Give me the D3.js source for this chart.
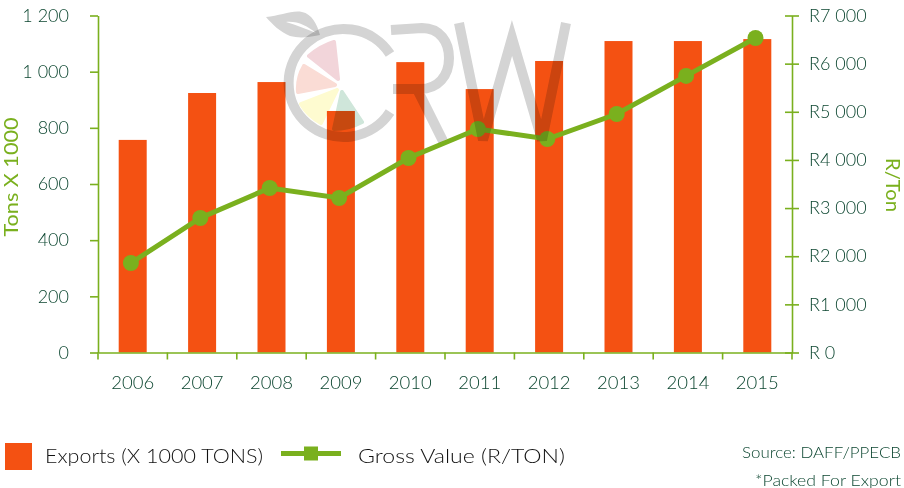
<!DOCTYPE html>
<html><head><meta charset="utf-8">
<script src="https://cdn.jsdelivr.net/npm/d3@7"></script>
<style>html,body{margin:0;padding:0;background:#fff}svg{display:block}text{font-family:"Lato",sans-serif;font-weight:300}</style>
</head><body><div id="chart"></div>
<script>
const years = ["2006","2007","2008","2009","2010","2011","2012","2013","2014","2015"];
const exportsTons = [757,924,963,860,1034,938,1038,1109,1109,1116];
const grossValue = [1859,2794,3417,3209,4040,4642,4435,4954,5745,6533];
const leftTicks = [0,200,400,600,800,1000,1200];
const rightTicks = [0,1000,2000,3000,4000,5000,6000,7000];
const ORANGE="#f45112", GREEN="#7ab01e", TXT="#0c4630";
const W=904,H=488,L=98,R=792,T=15.5,B=352.5;
const svg=d3.select("#chart").append("svg").attr("width",W).attr("height",H);
const xb=d3.scaleBand().domain(years).range([L,R]);
const yL=d3.scaleLinear().domain([0,1200]).range([B,T]);
const yR=d3.scaleLinear().domain([0,7000]).range([B,T]);
const fmt=v=>{const s=String(v);return s.length>3?s.slice(0,-3)+" "+s.slice(-3):s;};

svg.selectAll("rect.bar").data(years).enter().append("rect").attr("class","bar")
  .attr("x",d=>xb(d)+xb.bandwidth()/2-14).attr("width",28)
  .attr("y",(d,i)=>yL(exportsTons[i])).attr("height",(d,i)=>B-yL(exportsTons[i]))
  .attr("fill",ORANGE);

function styleAxis(g,size){g.selectAll("path,line").attr("stroke",GREEN).attr("stroke-width",1.6);
  g.selectAll("text").attr("fill",TXT).attr("font-size",size);}
const gl=svg.append("g").attr("transform",`translate(${L},0)`)
  .call(d3.axisLeft(yL).tickValues(leftTicks).tickFormat(fmt).tickSize(8).tickPadding(21).tickSizeOuter(0));
styleAxis(gl,18);
const gr=svg.append("g").attr("transform",`translate(${R},0)`)
  .call(d3.axisRight(yR).tickValues(rightTicks).tickFormat(v=>v===0?"R 0":"R"+fmt(v)).tickSize(7).tickPadding(10).tickSizeOuter(0));
styleAxis(gr,18);
gr.selectAll(".tick").append("line").attr("x1",-7).attr("x2",0).attr("stroke",GREEN).attr("stroke-width",1.6);
const gx=svg.append("g").attr("transform",`translate(0,${B})`)
  .call(d3.axisBottom(xb).tickSize(0).tickPadding(23));
styleAxis(gx,18.5);
gx.selectAll(".boundary").data(years.concat(["end"])).enter().append("line").attr("class","boundary")
  .attr("x1",d=>d==="end"?R:xb(d)).attr("x2",d=>d==="end"?R:xb(d)).attr("y1",0).attr("y2",7)
  .attr("stroke",GREEN).attr("stroke-width",1.6);

const px=i=>xb(years[i])+xb.bandwidth()/2-1.8;
const line=d3.line().x((d,i)=>px(i)).y(d=>yR(d));
svg.append("path").datum(grossValue).attr("d",line).attr("fill","none").attr("stroke",GREEN).attr("stroke-width",5);
svg.selectAll("circle.pt").data(grossValue).enter().append("circle").attr("class","pt")
  .attr("cx",(d,i)=>px(i)).attr("cy",d=>yR(d)).attr("r",8).attr("fill",GREEN);

// watermark logo
const wm=svg.append("g");
const GREY="#d4d4d4";
const mul=s=>s.style("mix-blend-mode","multiply");
mul(wm.append("path").attr("d","M266,17 C280,16 292,10 302,12 C312,14 317,24 320,35 C306,38 298,38 290,36 C280,32 272,24 266,17Z").attr("fill",GREY));
wm.append("path").attr("d","M286,22 C298,21 307,26 316,33 C306,29 297,25 286,22Z").attr("fill","#fff");
mul(wm.append("path").attr("d","M390,54 A55,54 0 1 0 390,112").attr("fill","none").attr("stroke",GREY).attr("stroke-width",10));
mul(wm.append("path").attr("d","M391,30 L422,28 C440,28 449,42 449,58 C449,76 438,89 420,89 L393,89 M417,89 L443,141").attr("fill","none").attr("stroke",GREY).attr("stroke-width",10));
mul(wm.append("path").attr("d","M459,23 L483,140 L512,38 L542,140 L566,23").attr("fill","none").attr("stroke",GREY).attr("stroke-width",10));
const slice=(d,c)=>mul(wm.append("path").attr("d",d).attr("fill",c).attr("stroke",c).attr("stroke-width",4).attr("stroke-linejoin","round"));
slice("M309,56 Q321,46 334,42 L338,79Z","#f2d5da");
slice("M304,66 L335,85 L298,92 Q297,78 304,66Z","#fadcd5");
slice("M301,104 L337,90 L321,123 Q308,116 301,104Z","#fefbd0");
slice("M342,92 L362,122 Q349,129 334,129Z","#cfe6da");

// axis titles
svg.append("text").attr("transform","translate(18,177) rotate(-90)").attr("text-anchor","middle").attr("fill",GREEN).attr("font-size",19).style("font-weight",400).attr("textLength",119).attr("lengthAdjust","spacingAndGlyphs").text("Tons X 1000");
svg.append("text").attr("transform","translate(886,185) rotate(90)").attr("text-anchor","middle").attr("fill",GREEN).attr("font-size",19).style("font-weight",400).attr("textLength",54).attr("lengthAdjust","spacingAndGlyphs").text("R/Ton");

// legend
svg.append("rect").attr("x",5).attr("y",443).attr("width",27).attr("height",27).attr("fill",ORANGE);
svg.append("text").attr("x",45).attr("y",463).attr("fill","#111").attr("font-size",20.5).attr("textLength",218).attr("lengthAdjust","spacingAndGlyphs").text("Exports (X 1000 TONS)");
svg.append("line").attr("x1",281).attr("x2",341).attr("y1",453.5).attr("y2",453.5).attr("stroke",GREEN).attr("stroke-width",5);
svg.append("rect").attr("x",304).attr("y",446.5).attr("width",14).attr("height",14).attr("fill",GREEN);
svg.append("text").attr("x",358).attr("y",463).attr("fill","#111").attr("font-size",20.5).attr("textLength",207).attr("lengthAdjust","spacingAndGlyphs").text("Gross Value (R/TON)");
svg.append("text").attr("x",901).attr("y",458).attr("text-anchor","end").attr("fill",TXT).attr("font-size",16).attr("textLength",159).attr("lengthAdjust","spacingAndGlyphs").text("Source: DAFF/PPECB");
svg.append("text").attr("x",901).attr("y",486).attr("text-anchor","end").attr("fill",TXT).attr("font-size",16).attr("textLength",146).attr("lengthAdjust","spacingAndGlyphs").text("*Packed For Export");
</script></body></html>
